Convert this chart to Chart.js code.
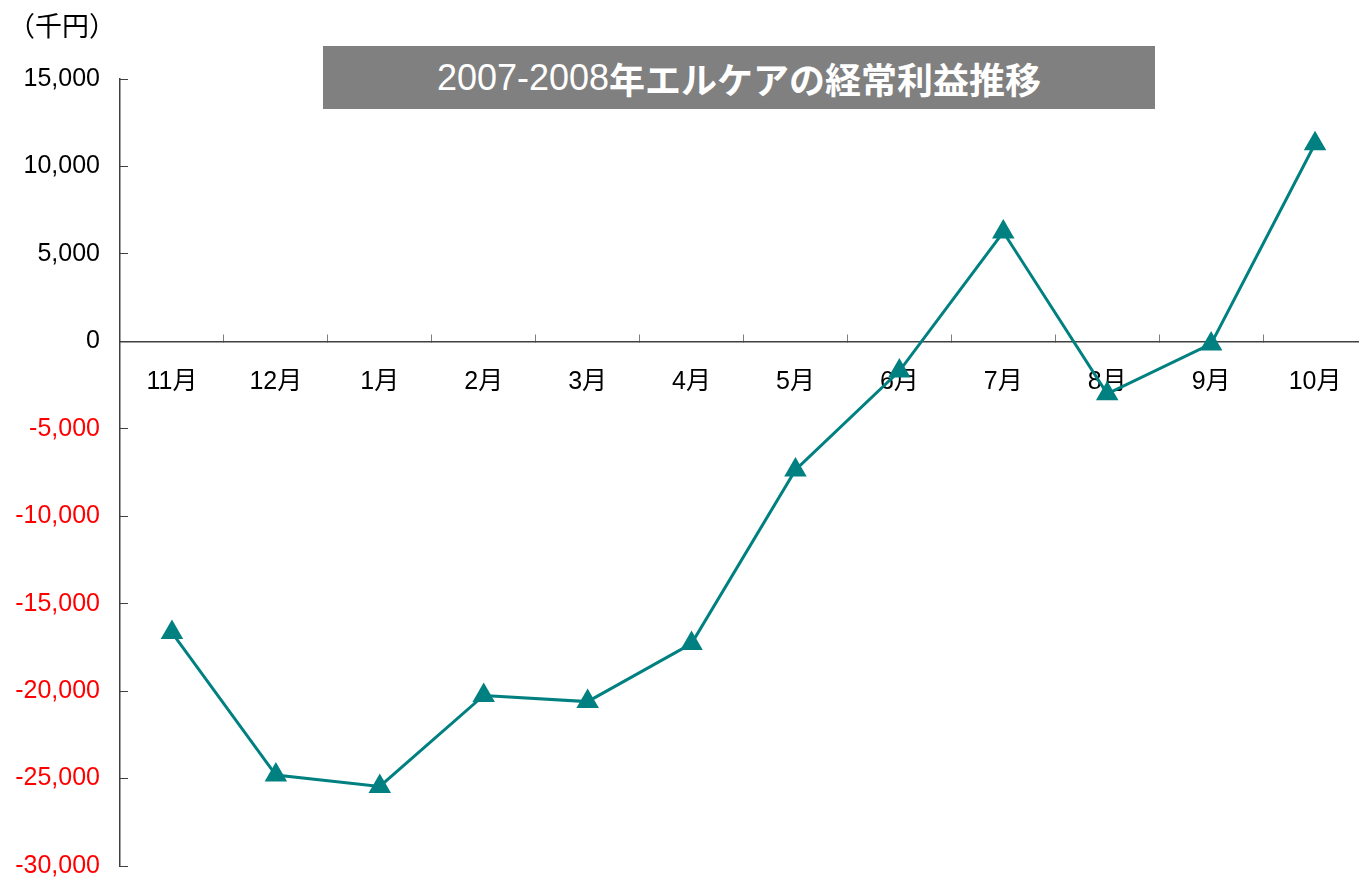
<!DOCTYPE html>
<html lang="ja">
<head>
<meta charset="utf-8">
<title>2007-2008年エルケアの経常利益推移</title>
<script src="https://cdn.jsdelivr.net/npm/chart.js@4.4.1/dist/chart.umd.min.js"></script>
<style>
  html, body { margin: 0; padding: 0; background: #fff; overflow: hidden; width: 1359px; height: 879px; }
  #wrap { position: absolute; left: 0; top: 0; width: 1380px; height: 879px; }
  #unit { position: absolute; left: 8px; top: 5px; font: 27px 'Liberation Sans', 'Noto Sans CJK JP', sans-serif; color: #000; white-space: nowrap; }
  #title { position: absolute; left: 323px; top: 46px; width: 832px; height: 63px; background: #808080; color: #fff;
           display: flex; align-items: center; justify-content: center; font-size: 36px; white-space: nowrap; }
  #title .n { font-family: 'Liberation Sans', Arial, sans-serif; }
  #title .j { font-family: 'Noto Sans CJK JP', sans-serif; font-weight: 700; }
</style>
</head>
<body>
<div id="wrap"><canvas id="c" width="1380" height="879"></canvas></div>
<div id="unit">（千円）</div>
<div id="title"><span class="n">2007-2008</span><span class="j">年エルケアの経常利益推移</span></div>
<script>
const months = ['11月', '12月', '1月', '2月', '3月', '4月', '5月', '6月', '7月', '8月', '9月', '10月'];
const ordinaryProfit = [-16650, -24800, -25450, -20250, -20600, -17280, -7350, -1700, 6250, -3000, -150, 11300];
const yMin = -30000;
const yMax = 15000;
const yStep = 5000;

const FONT = "'Liberation Sans', 'Noto Sans CJK JP', sans-serif";
const TEAL = '#008080';

new Chart(document.getElementById('c'), {
  type: 'line',
  data: {
    labels: months,
    datasets: [{
      label: '経常利益',
      data: ordinaryProfit,
      borderColor: TEAL,
      backgroundColor: TEAL,
      borderWidth: 3,
      pointStyle: 'triangle',
      pointRadius: 13,
      pointHoverRadius: 13,
      pointBorderWidth: 0,
      pointBackgroundColor: TEAL,
      tension: 0,
      fill: false
    }]
  },
  options: {
    responsive: false,
    animation: false,
    devicePixelRatio: 1,
    layout: { padding: { top: 79, left: 0, right: 2, bottom: 11 } },
    plugins: {
      legend: { display: false },
      title: { display: false },
      tooltip: { enabled: false }
    },
    scales: {
      x: {
        type: 'category',
        offset: true,
        position: { y: 0 },
        grid: { display: true, drawOnChartArea: false, drawTicks: true, tickLength: -8, offset: true, color: '#7f7f7f', lineWidth: 1 },
        border: { display: true, color: '#404040', width: 1.5 },
        ticks: { color: '#000', padding: 34, maxRotation: 0, autoSkip: false, font: { family: FONT, size: 25 } }
      },
      y: {
        min: yMin,
        max: yMax,
        position: 'left',
        afterFit: (scale) => { scale.width = 120; scale.paddingTop = 0; scale.paddingBottom = 0; },
        grid: { display: true, drawOnChartArea: false, drawTicks: true, tickLength: -8, color: '#404040', lineWidth: 1 },
        border: { display: true, color: '#404040', width: 1.5 },
        ticks: {
          stepSize: yStep,
          padding: 28,
          font: { family: FONT, size: 25 },
          color: (ctx) => (ctx.tick && ctx.tick.value < 0 ? '#ff0000' : '#000000'),
          callback: (v) => Number(v).toLocaleString('en-US')
        }
      }
    }
  }
});
</script>
</body>
</html>
